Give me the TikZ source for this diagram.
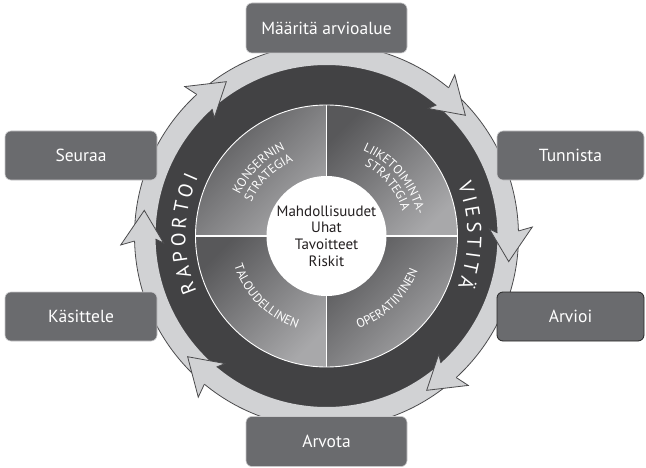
\documentclass[tikz,border=0pt]{standalone}
\usepackage{fontspec}
\setmainfont{PT Sans}
\usetikzlibrary{decorations.text,calc}
\definecolor{bandc}{HTML}{D1D2D4}
\definecolor{outl}{HTML}{4A4A4C}
\definecolor{boxc}{HTML}{6A6B6E}
\definecolor{boxedge}{HTML}{C8C8CA}
\definecolor{dk1}{HTML}{424244}
\definecolor{dk2}{HTML}{5A5A5C}
\definecolor{q1}{HTML}{58585A}
\definecolor{q2}{HTML}{A8A8AA}
\definecolor{txt}{HTML}{231F20}
\pgfdeclareradialshading{darkring}{\pgfpoint{0bp}{0bp}}{color(0bp)=(dk1); color(38bp)=(dk1); color(50bp)=(dk2)}
\begin{document}
\begin{tikzpicture}[x=1pt,y=1pt,
  stepbox/.style={rectangle, rounded corners=6pt, fill=boxc, draw=boxedge, line width=0.6pt,
    text=white, font=\fontsize{17.5}{20}\selectfont, inner sep=0pt},
  outline/.style={draw=outl, line width=0.8pt, line join=miter},
  quad/.style={top color=q1, bottom color=q2, shading angle=45},
  divider/.style={white, line width=1.2pt},
  qtext/.style={decorate, decoration={text along path, text align=center,
    text={|\color{white}\fontsize{12.5}{13}\selectfont|#1}}},
  rtext/.style={decorate, decoration={text along path, text align=fit to path,
    text={|\color{white}\fontsize{20}{22}\selectfont|#1}}}
]
\useasboundingbox (0,0) rectangle (646,467);
\fill[white] (0,0) rectangle (646,467);
\coordinate (C) at (326.5,231);
\begin{scope}[shift={(C)}]
  % dark ring
  \shade[shading=darkring] (0,0) circle[radius=173pt];
  % light band
  \fill[bandc, even odd rule] (0,0) circle[radius=192pt] (0,0) circle[radius=171pt];
  \draw[outline] (0,0) circle[radius=192pt];
  % arrowheads (clockwise)
  \foreach \a in {41,-8,-57,221,172,123} {
    \fill[bandc] ({\a+9.5}:192pt) -- ({\a+10.5}:206pt) -- (\a:184pt) -- ({\a+10.5}:163pt) -- ({\a+9}:171pt) -- cycle;
    \draw[outline] ({\a+9.5}:192pt) -- ({\a+10.5}:206pt) -- (\a:184pt) -- ({\a+10.5}:163pt) -- ({\a+9}:171pt);
  }
  % quadrants
  \shade[quad] (0,0) -- (90:131pt) arc[start angle=90, end angle=180, radius=131pt] -- cycle;
  \shade[quad] (0,0) -- (0:131pt) arc[start angle=0, end angle=90, radius=131pt] -- cycle;
  \shade[quad] (0,0) -- (180:131pt) arc[start angle=180, end angle=270, radius=131pt] -- cycle;
  \shade[quad] (0,0) -- (270:131pt) arc[start angle=270, end angle=360, radius=131pt] -- cycle;
  \draw[divider] (0:131pt) -- (180:131pt);
  \draw[divider] (90:131pt) -- (270:131pt);
  \draw[white, line width=0.9pt] (0,0) circle[radius=131pt];
  \fill[white] (0,0) circle[radius=60pt];
  % quadrant labels
  \path[qtext=KONSERNIN] (195:96pt) arc[start angle=195, end angle=75, radius=96pt];
  \path[qtext=STRATEGIA] (195:82pt) arc[start angle=195, end angle=75, radius=82pt];
  \path[qtext=LIIKETOIMINTA-] (100:93pt) arc[start angle=100, end angle=-20, radius=93pt];
  \path[qtext=STRATEGIA] (100:80pt) arc[start angle=100, end angle=-20, radius=80pt];
  \path[qtext=TALOUDELLINEN] (165:97pt) arc[start angle=165, end angle=285, radius=97pt];
  \path[qtext=OPERATIIVINEN] (-106:98pt) arc[start angle=-106, end angle=14, radius=98pt];
  % ring labels
  \path[rtext=RAPORTOI] (203:141pt) arc[start angle=203, end angle=155.5, radius=141pt];
  \path[rtext=VIESTITÄ] (21.5:141pt) arc[start angle=21.5, end angle=-21, radius=141pt];
\end{scope}
\node[align=center, text=txt, font=\fontsize{15}{16.7}\selectfont] (mid) at (C) {Mahdollisuudet\\Uhat\\Tavoitteet\\Riskit};
% boxes
\node[stepbox, minimum width=161pt, minimum height=50pt] (maar) at (326.5,439) {Määritä arvioalue};
\node[stepbox, minimum width=161pt, minimum height=50pt] (arvota) at (326.5,25.5) {Arvota};
\node[stepbox, minimum width=147pt, minimum height=49pt] (tunn) at (570.5,311.5) {Tunnista};
\node[stepbox, minimum width=147pt, minimum height=49pt, draw=black!85, line width=0.8pt] (arvioi) at (570.5,150.5) {Arvioi};
\node[stepbox, minimum width=152pt, minimum height=49pt] (seur) at (81,311.5) {Seuraa};
\node[stepbox, minimum width=152pt, minimum height=49pt] (kas) at (81,150.5) {Käsittele};
\end{tikzpicture}
\end{document}
